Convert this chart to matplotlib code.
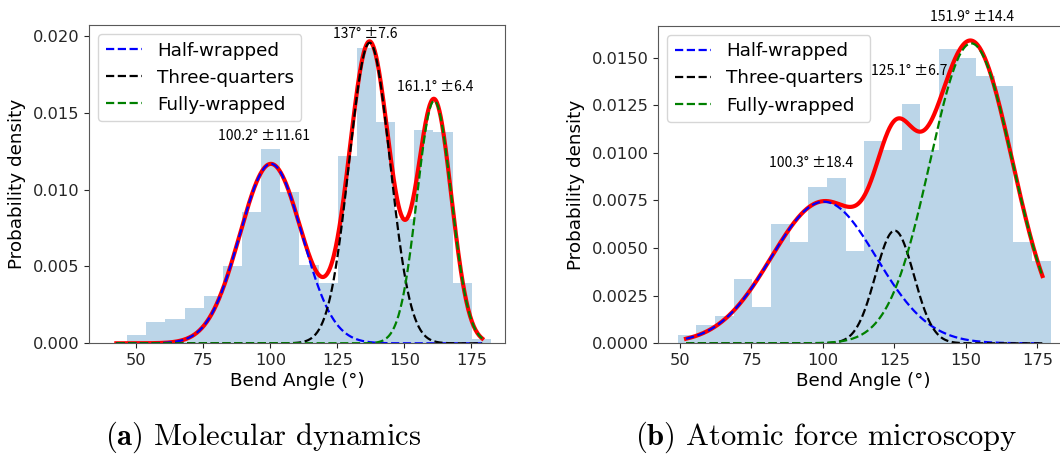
import numpy as np
import matplotlib
matplotlib.use("Agg")
import matplotlib.pyplot as plt

# ---------------- data ----------------
# Panel (a): Molecular dynamics histogram (density)
md_bin_start = 46.6
md_bin_width = 7.137
md_heights = [0.00054, 0.00137, 0.00160, 0.00232, 0.00310, 0.00500, 0.00853,
              0.01265, 0.00983, 0.00508, 0.00390, 0.01219, 0.01920, 0.01442,
              0.00810, 0.01386, 0.01373, 0.00395, 0.00030]
md_means = [100.2, 137.0, 161.1]
md_sigmas = [11.61, 7.6, 6.4]
md_weights = [0.3396, 0.3724, 0.2530]
md_curve_range = (42.55, 179.0)
md_labels = ["100.2° ±11.61", "137° ±7.6", "161.1° ±6.4"]

# Panel (b): Atomic force microscopy histogram (density)
afm_bin_start = 49.2
afm_bin_width = 6.525
afm_heights = [0.00044, 0.00095, 0.00144, 0.00336, 0.00193, 0.00627, 0.00532,
               0.00821, 0.00868, 0.00483, 0.01064, 0.01015, 0.01258, 0.01015,
               0.01547, 0.01500, 0.01404, 0.01353, 0.00534, 0.00434]
afm_means = [100.3, 125.1, 151.9]
afm_sigmas = [18.4, 6.7, 14.4]
afm_weights = [0.3430, 0.0994, 0.5686]
afm_curve_range = (52.1, 176.8)
afm_labels = ["100.3° ±18.4", "125.1° ±6.7", "151.9° ±14.4"]

component_names = ["Half-wrapped", "Three-quarters", "Fully-wrapped"]
component_colors = ["blue", "black", "green"]

# annotation positions (data coords)
md_label_pos = [(97.7, 0.01349), (135.3, 0.02011), (161.4, 0.01664)]
afm_label_pos = [(95.9, 0.00945), (130.3, 0.01431), (152.3, 0.01712)]

captions = [("a", "Molecular dynamics"), ("b", "Atomic force microscopy")]

# ---------------- figure ----------------
plt.rcParams["mathtext.fontset"] = "cm"
W, H = 1060, 455
DPI = 100
fig = plt.figure(figsize=(W / DPI, H / DPI), dpi=DPI)


def px_axes(left, top, right, bottom):
    return fig.add_axes([left / W, 1 - bottom / H, (right - left) / W, (bottom - top) / H])


def gauss(x, m, s, w):
    return w / (s * np.sqrt(2 * np.pi)) * np.exp(-0.5 * ((x - m) / s) ** 2)


def draw_panel(ax, bin_start, bin_width, heights, means, sigmas, weights,
               crange, labels, label_pos, xlim, ylim):
    n = len(heights)
    lefts = bin_start + bin_width * np.arange(n)
    ax.bar(lefts, heights, width=bin_width, align="edge", color="C0",
           alpha=0.3, linewidth=0)
    x = np.linspace(crange[0], crange[1], 600)
    comps = [gauss(x, m, s, w) for m, s, w in zip(means, sigmas, weights)]
    ax.plot(x, np.sum(comps, axis=0), color="red", lw=3)
    for c, name, col in zip(comps, component_names, component_colors):
        ax.plot(x, c, ls="--", color=col, lw=1.6, label=name)
    for lab, (lx, ly) in zip(labels, label_pos):
        ax.text(lx, ly, lab, ha="center", va="center", fontsize=10,
                family=["Noto Sans CJK SC", "DejaVu Sans"], color="black")
    ax.set_xlim(*xlim)
    ax.set_ylim(*ylim)
    ax.set_xticks([50, 75, 100, 125, 150, 175])
    ax.set_xlabel("Bend Angle (°)", fontsize=13.2, labelpad=3)
    ax.set_ylabel("Probability density", fontsize=13.2, labelpad=5)
    ax.tick_params(labelsize=11.7, colors="0.15")
    for sp in ax.spines.values():
        sp.set_color("0.35")
    ax.legend(loc="upper left", fontsize=13.2)


ax1 = px_axes(89, 25, 505, 343.3)
draw_panel(ax1, md_bin_start, md_bin_width, md_heights, md_means, md_sigmas,
           md_weights, md_curve_range, md_labels, md_label_pos,
           (32.35, 187.5), (0, 0.0207))
ax1.set_yticks([0.0, 0.005, 0.010, 0.015, 0.020])
ax1.yaxis.set_major_formatter(matplotlib.ticker.FormatStrFormatter("%.3f"))

ax2 = px_axes(658.3, 25.7, 1069.3, 343.3)
draw_panel(ax2, afm_bin_start, afm_bin_width, afm_heights, afm_means, afm_sigmas,
           afm_weights, afm_curve_range, afm_labels, afm_label_pos,
           (42.4, 186.2), (0, 0.01668))
ax2.set_yticks([0.0, 0.0025, 0.005, 0.0075, 0.010, 0.0125, 0.015])
ax2.yaxis.set_major_formatter(matplotlib.ticker.FormatStrFormatter("%.4f"))

for (letter, text), cx in zip(captions, [263, 826]):
    fig.text(cx / W, 1 - 437 / H, r"$\mathbf{(" + letter + r")}$ " + text,
             ha="center", va="center", fontsize=22, family="cmr10")

fig.savefig("out.png", dpi=DPI)
